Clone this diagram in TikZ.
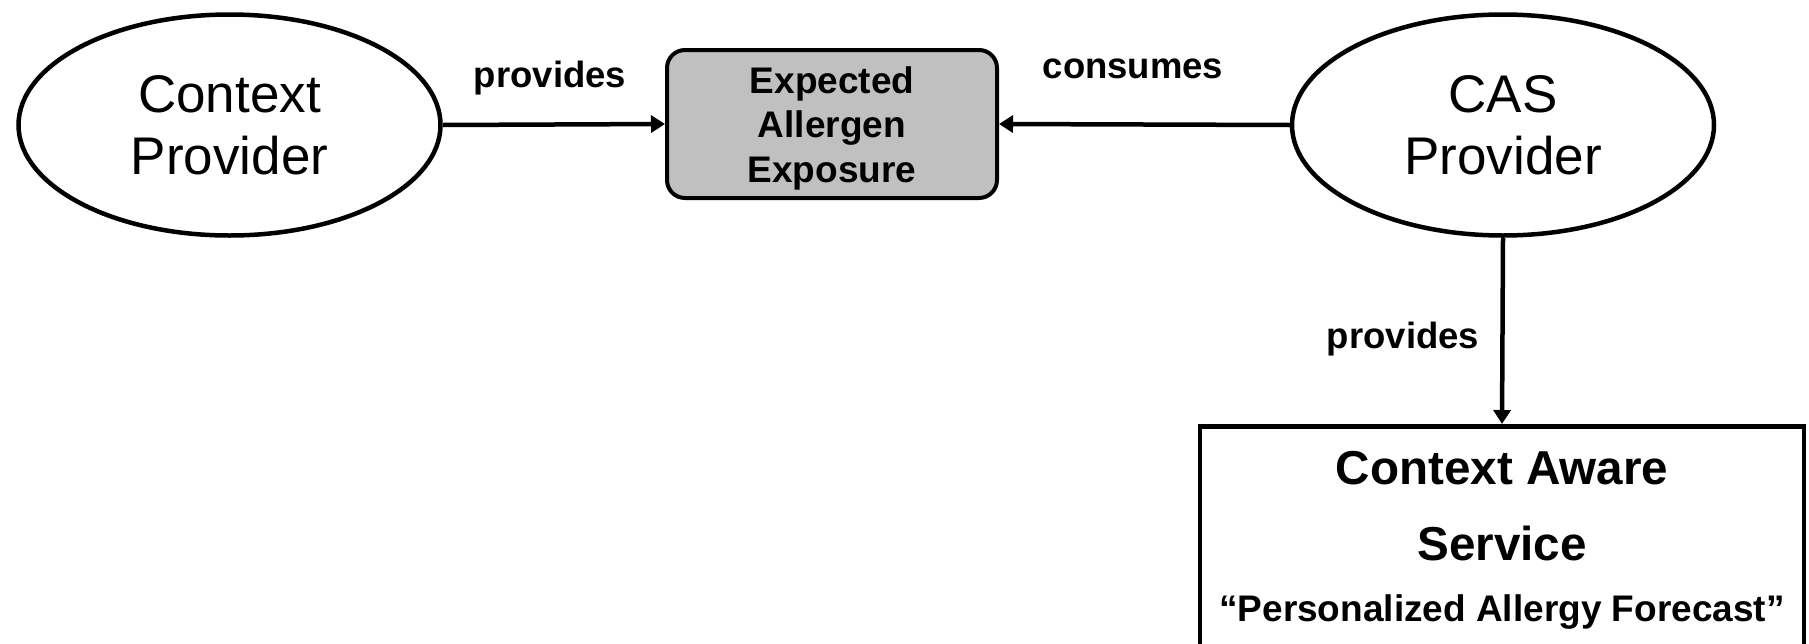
\documentclass[tikz,border=0pt]{standalone}
\usepackage{fontspec}
\setmainfont{Liberation Sans}
\usetikzlibrary{arrows.meta,shapes.geometric}
\definecolor{boxgray}{HTML}{C0C0C0}
\begin{document}
\begin{tikzpicture}[x=1pt,y=-1pt,
  actor/.style={ellipse, draw, line width=4.5pt, minimum width=422pt,
    minimum height=221pt, inner sep=0pt, align=center,
    font=\fontsize{53}{62}\selectfont},
  datum/.style={rectangle, rounded corners=18pt, draw, fill=boxgray,
    line width=4pt, minimum width=330pt, minimum height=148pt, inner sep=0pt,
    align=center, font=\bfseries\fontsize{37}{44.5}\selectfont},
  servicebox/.style={rectangle, draw, line width=4.5pt, minimum width=604pt,
    minimum height=300pt, anchor=north},
  flow/.style={-{Triangle[length=14pt,width=17pt]}, line width=4.5pt},
  lbl/.style={font=\bfseries\fontsize{36.5}{40}\selectfont, anchor=base},
  svctitle/.style={font=\bfseries\fontsize{47.6}{50}\selectfont, anchor=base},
  svcsub/.style={font=\bfseries\fontsize{37}{40}\selectfont, anchor=base}]
\useasboundingbox (0,0) rectangle (1809,643);
\clip (0,0) rectangle (1809,643);

% actors and the shared context item
\node[actor] (cp) at (229.5,125) {Context\\Provider};
\node[actor] (cas) at (1503,125) {CAS\\Provider};
\node[datum] (eae) at (832,124) {\rule{0pt}{35pt}Expected\\Allergen\\Exposure};

% the service box runs past the lower edge
\node[servicebox] (svc) at (1502,424) {};
\node[svctitle] (svc1) at (1502,484) {Context Aware};
\node[svctitle] (svc2) at (1502,560) {Service};
\node[svcsub] (svc3) at (1502,621) {“Personalized Allergy Forecast”};

% relations
\draw[flow] (cp.east) -- (eae.west);
\draw[flow] (cas.west) -- (eae.east);
\draw[flow] (cas.south) -- (svc.north);

\node[lbl] (lprov) at (550,87) {provides};
\node[lbl] (lcons) at (1133,78) {consumes};
\node[lbl] (lprov2) at (1403,348) {provides};
\end{tikzpicture}
\end{document}
